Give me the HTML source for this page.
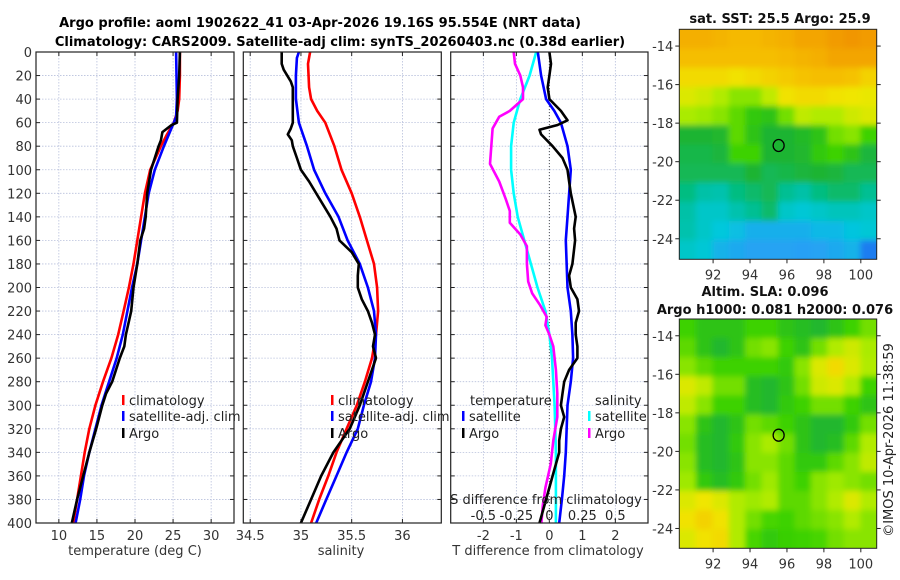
<!DOCTYPE html>
<html><head><meta charset="utf-8">
<style>
body{margin:0;background:#fff;}
svg{display:block;font-family:"DejaVu Sans","Liberation Sans",sans-serif;}
</style></head>
<body>
<svg id="c" width="900" height="580" viewBox="0 0 900 580" xmlns="http://www.w3.org/2000/svg">
<defs>
<filter id="bl" x="-5%" y="-5%" width="110%" height="110%"><feGaussianBlur stdDeviation="3"/></filter>
<clipPath id="cm1"><rect x="679.3" y="29.3" width="197.4" height="230"/></clipPath>
<clipPath id="cm2"><rect x="679.3" y="319" width="197.4" height="229.3"/></clipPath>
</defs>
<text x="320" y="27" text-anchor="middle" font-weight="bold" font-size="13">Argo profile: aoml 1902622_41 03-Apr-2026 19.16S 95.554E (NRT data)</text>
<text x="340" y="46" text-anchor="middle" font-weight="bold" font-size="13">Climatology: CARS2009. Satellite-adj clim: synTS_20260403.nc (0.38d earlier)</text>
</svg>
<script>
// ---------- data ----------
const depthTicks=[0,20,40,60,80,100,120,140,160,180,200,220,240,260,280,300,320,340,360,380,400];
const tTicks=[10,15,20,25,30];
const sTicks=[34.5,35,35.5,36];
const sTickLabels=["34.5","35","35.5","36"];
const dTicks=[-2,-1,0,1,2];
const dsTicks=[-0.5,-0.25,0,0.25,0.5];
const dsTickLabels=["-0.5","-0.25","0","0.25","0.5"];

const tClimZ=[0,20,40,50,60,70,80,100,120,140,160,180,200,220,240,260,280,300,320,340,360,380,400];
const tClimV=[25.9,25.9,25.8,25.6,25.1,24.2,23.4,22.0,21.3,20.8,20.3,19.8,19.2,18.5,17.8,16.9,15.8,14.8,14.0,13.4,12.9,12.4,11.9];
const tSatZ=[0,40,55,60,80,100,120,140,160,180,200,220,240,260,280,300,320,340,360,380,400];
const tSatV=[25.4,25.5,25.4,25.1,23.8,22.6,21.8,21.3,20.8,20.3,19.6,19.0,18.4,17.6,16.6,15.6,14.8,14.0,13.3,12.8,12.2];
const tArgoZ=[0,20,40,60,62,68,75,80,100,120,140,150,160,180,200,220,240,250,260,280,290,300,320,340,360,380,400];
const tArgoV=[25.9,25.8,25.6,25.5,24.8,23.6,23.4,23.1,22.1,21.6,21.4,21.2,20.7,20.3,19.8,19.5,18.8,18.6,18.0,17.0,16.2,15.7,14.9,14.0,13.2,12.4,11.7];

const sClimZ=[0,10,30,40,50,60,80,100,120,140,160,180,200,220,240,260,280,300,320,340,360,380,400];
const sClimV=[35.09,35.07,35.08,35.1,35.16,35.24,35.33,35.4,35.5,35.58,35.65,35.72,35.75,35.76,35.74,35.7,35.63,35.55,35.45,35.35,35.27,35.18,35.1];
const sSatZ=[0,5,20,40,60,80,100,120,140,160,180,200,220,240,260,280,300,320,340,360,380,400];
const sSatV=[34.98,34.96,34.95,34.95,34.98,35.06,35.13,35.24,35.37,35.46,35.58,35.66,35.72,35.74,35.73,35.69,35.62,35.56,35.45,35.35,35.25,35.15];
const sArgoZ=[0,10,15,25,30,40,60,65,70,75,80,90,100,110,120,130,140,150,160,170,180,190,200,210,220,230,240,250,260,280,300,320,340,360,380,400];
const sArgoV=[34.81,34.81,34.83,34.9,34.92,34.92,34.92,34.9,34.87,34.91,34.92,34.96,35.0,35.08,35.15,35.22,35.29,35.35,35.38,35.5,35.57,35.56,35.56,35.6,35.66,35.7,35.73,35.71,35.74,35.66,35.58,35.48,35.32,35.2,35.1,35.0];

const dtSatZ=[0,20,40,50,60,80,100,140,160,200,220,240,260,280,300,340,360,380,400];
const dtSatV=[-0.35,-0.25,-0.1,0.15,0.35,0.55,0.65,0.55,0.5,0.55,0.65,0.7,0.72,0.65,0.55,0.5,0.45,0.38,0.3];
const dtArgoZ=[0,10,20,30,40,50,58,62,66,70,80,90,100,110,120,140,150,160,180,190,200,210,220,230,240,250,260,270,280,290,300,310,320,330,340,350,360,380,400];
const dtArgoV=[0.0,0.05,0.0,-0.05,0.0,0.35,0.55,0.25,-0.3,-0.25,0.1,0.4,0.55,0.6,0.65,0.8,0.75,0.78,0.7,0.6,0.65,0.85,0.9,0.8,0.8,0.85,0.85,0.6,0.45,0.4,0.35,0.45,0.35,0.3,0.3,0.2,0.1,-0.1,-0.3];
const dsSatZ=[0,20,40,60,80,100,120,140,160,180,200,220,240,260,300,340,400];
const dsSatV=[-0.1,-0.15,-0.22,-0.27,-0.29,-0.29,-0.27,-0.24,-0.19,-0.14,-0.09,-0.03,0.0,0.02,0.04,0.05,0.05];
const dsArgoZ=[0,10,20,30,40,50,55,65,80,95,110,125,135,145,155,165,180,195,205,215,225,232,240,250,270,290,310,330,350,370,385,400];
const dsArgoV=[-0.27,-0.26,-0.22,-0.2,-0.2,-0.3,-0.38,-0.43,-0.44,-0.45,-0.38,-0.33,-0.3,-0.3,-0.22,-0.17,-0.17,-0.16,-0.13,-0.07,-0.02,-0.03,0.0,0.03,0.05,0.06,0.06,0.03,0.01,-0.03,-0.05,-0.06];

const lonTicks=[92,94,96,98,100];
const latTicks=[-14,-16,-18,-20,-22,-24];
const sstGrid=[
[0.88,0.88,0.87,0.86,0.86,0.87,0.88,0.9,0.9,0.92,0.93,0.92],
[0.85,0.85,0.85,0.85,0.85,0.85,0.86,0.87,0.88,0.9,0.9,0.9],
[0.78,0.78,0.78,0.76,0.78,0.8,0.82,0.84,0.85,0.85,0.84,0.8],
[0.72,0.7,0.66,0.62,0.62,0.68,0.76,0.78,0.78,0.76,0.75,0.74],
[0.65,0.64,0.62,0.58,0.52,0.5,0.6,0.68,0.66,0.66,0.7,0.72],
[0.45,0.45,0.46,0.58,0.5,0.45,0.45,0.47,0.5,0.6,0.62,0.55],
[0.43,0.43,0.44,0.55,0.55,0.45,0.45,0.46,0.52,0.55,0.5,0.44],
[0.42,0.42,0.42,0.42,0.45,0.42,0.43,0.44,0.45,0.44,0.42,0.42],
[0.38,0.33,0.32,0.38,0.4,0.42,0.36,0.33,0.38,0.4,0.4,0.36],
[0.33,0.28,0.28,0.32,0.36,0.4,0.28,0.26,0.28,0.3,0.3,0.28],
[0.32,0.28,0.25,0.22,0.17,0.17,0.17,0.17,0.2,0.2,0.24,0.26],
[0.28,0.26,0.18,0.15,0.13,0.13,0.13,0.12,0.13,0.15,0.18,0.06]];
const slaGrid=[
[0.55,0.5,0.5,0.5,0.55,0.55,0.5,0.48,0.46,0.5,0.55,0.6],
[0.58,0.5,0.46,0.5,0.6,0.62,0.55,0.5,0.6,0.66,0.7,0.65],
[0.62,0.58,0.55,0.55,0.55,0.55,0.52,0.62,0.72,0.78,0.72,0.66],
[0.72,0.68,0.6,0.6,0.48,0.46,0.5,0.6,0.7,0.72,0.66,0.55],
[0.68,0.62,0.55,0.55,0.48,0.46,0.52,0.55,0.6,0.6,0.55,0.5],
[0.62,0.5,0.46,0.5,0.6,0.58,0.55,0.5,0.46,0.46,0.52,0.6],
[0.6,0.48,0.46,0.52,0.62,0.65,0.6,0.5,0.46,0.48,0.58,0.66],
[0.62,0.48,0.46,0.5,0.62,0.62,0.58,0.52,0.52,0.58,0.62,0.68],
[0.64,0.52,0.48,0.52,0.6,0.64,0.58,0.55,0.62,0.64,0.62,0.6],
[0.72,0.75,0.72,0.66,0.64,0.66,0.58,0.58,0.62,0.66,0.72,0.66],
[0.76,0.8,0.76,0.66,0.6,0.56,0.55,0.58,0.6,0.62,0.66,0.62],
[0.72,0.76,0.78,0.66,0.56,0.52,0.54,0.55,0.56,0.6,0.62,0.62]];
const argoLon=95.55, argoLat=-19.16;

// ---------- drawing ----------
const NS='http://www.w3.org/2000/svg';
const svg=document.getElementById('c');
function el(tag,attrs,parent){const e=document.createElementNS(NS,tag);for(const k in attrs)e.setAttribute(k,attrs[k]);(parent||svg).appendChild(e);return e;}
function txt(s,attrs,parent){const e=el('text',attrs,parent);e.textContent=s;return e;}

const Y0=52,Y1=523;
const yD=d=>Y0+d*(Y1-Y0)/400;
function xScale(x0,x1,v0,v1){return v=>x0+(v-v0)*(x1-x0)/(v1-v0);}

function panel(name,x0,x1,xs,ticks,labels,yLabels){
  const g=el('g',{});
  
  
  ticks.forEach(t=>el('line',{x1:xs(t),x2:xs(t),y1:Y0,y2:Y1,stroke:'#b8c0dc','stroke-width':0.8,'stroke-dasharray':'1.5,1.5'},g));
  depthTicks.forEach(d=>el('line',{x1:x0,x2:x1,y1:yD(d),y2:yD(d),stroke:'#b8c0dc','stroke-width':0.8,'stroke-dasharray':'1.5,1.5'},g));
  depthTicks.forEach(d=>{el('line',{x1:x0,x2:x0+4,y1:yD(d),y2:yD(d),stroke:'#222'},g);el('line',{x1:x1-4,x2:x1,y1:yD(d),y2:yD(d),stroke:'#222'},g);});
  ticks.forEach(t=>{el('line',{x1:xs(t),x2:xs(t),y1:Y1,y2:Y1-4,stroke:'#222'},g);el('line',{x1:xs(t),x2:xs(t),y1:Y0,y2:Y0+4,stroke:'#222'},g);});
  if(labels) ticks.forEach((t,i)=>{const l=txt(labels[i],{x:xs(t),y:540,'text-anchor':'middle','font-size':13,fill:'#333'},g);
    
    });
  if(yLabels) depthTicks.forEach(d=>{const l=txt(String(d),{x:x0-4,y:yD(d)+5,'text-anchor':'end','font-size':13,fill:'#333'},g);
    
    });
  return g;
}
function frame(g,x0,x1){el('rect',{x:x0,y:Y0,width:x1-x0,height:Y1-Y0,fill:'none',stroke:'#222','stroke-width':1.2},g);}
function line(g,xs,Z,V,color,name,scale){
  const pts=Z.map((z,i)=>xs(V[i]*(scale||1)).toFixed(1)+','+yD(z).toFixed(1)).join(' ');
  const p=el('polyline',{points:pts,fill:'none',stroke:color,'stroke-width':2.6,'stroke-linejoin':'round'},g);
  
  
}
function legend(g,x,y,color,label,name){
  el('rect',{x:x,y:y-10,width:2.5,height:10,fill:color},g);
  const t=txt(label,{x:x+7,y:y,'font-size':13,fill:'#222'},g);
  
  
}

// panel 1 temperature
const xT=xScale(36,234,7,33);
const g1=panel('temperature-panel',36,234,xT,tTicks,tTicks.map(String),true);
line(g1,xT,tClimZ,tClimV,'#f00','temp-climatology-line');
line(g1,xT,tSatZ,tSatV,'#00f','temp-satellite-line');
line(g1,xT,tArgoZ,tArgoV,'#000','temp-argo-line');
frame(g1,36,234);
legend(g1,122,405,'#f00','climatology','legend-climatology');
legend(g1,122,421,'#00f','satellite-adj. clim','legend-satellite');
legend(g1,122,438,'#000','Argo','legend-argo');
let t1=txt('temperature (deg C)',{x:135,y:555,'text-anchor':'middle','font-size':13,fill:'#333'});



// panel 2 salinity
const xS=xScale(243.3,441.3,34.432,36.383);
const g2=panel('salinity-panel',243.3,441.3,xS,sTicks,sTickLabels,false);
line(g2,xS,sClimZ,sClimV,'#f00','sal-climatology-line');
line(g2,xS,sSatZ,sSatV,'#00f','sal-satellite-line');
line(g2,xS,sArgoZ,sArgoV,'#000','sal-argo-line');
frame(g2,243.3,441.3);
legend(g2,331,405,'#f00','climatology','legend-climatology');
legend(g2,331,421,'#00f','satellite-adj. clim','legend-satellite');
legend(g2,331,438,'#000','Argo','legend-argo');
let t2=txt('salinity',{x:341,y:555,'text-anchor':'middle','font-size':13,fill:'#333'});



// panel 3 differences
const xD=xScale(450.7,648,-2.99,2.99);
const g3=panel('difference-panel',450.7,648,xD,dTicks,dTicks.map(String),false);
el('line',{x1:xD(0),x2:xD(0),y1:Y0,y2:Y1,stroke:'#555','stroke-width':1,'stroke-dasharray':'1,2'},g3);
line(g3,xD,dsSatZ,dsSatV,'#0ff','sal-diff-satellite-line',4);
line(g3,xD,dsArgoZ,dsArgoV,'#f0f','sal-diff-argo-line',4);
line(g3,xD,dtSatZ,dtSatV,'#00f','temp-diff-satellite-line');
line(g3,xD,dtArgoZ,dtArgoV,'#000','temp-diff-argo-line');
frame(g3,450.7,648);
txt('temperature',{x:470,y:405,'font-size':13,fill:'#222'},g3);
legend(g3,462,421,'#00f','satellite','legend-temp-satellite');
legend(g3,462,438,'#000','Argo','legend-temp-argo');
txt('salinity',{x:595,y:405,'font-size':13,fill:'#222'},g3);
legend(g3,588,421,'#0ff','satellite','legend-sal-satellite');
legend(g3,588,438,'#f0f','Argo','legend-sal-argo');
let st=txt('S difference from climatology',{x:546,y:504,'text-anchor':'middle','font-size':13,fill:'#222'},g3);


dsTicks.forEach((v,i)=>{const l=txt(dsTickLabels[i],{x:xD(v*4),y:520,'text-anchor':'middle','font-size':13,fill:'#222'},g3);
  
  });
let t3=txt('T difference from climatology',{x:548,y:555,'text-anchor':'middle','font-size':13,fill:'#333'});



// maps
const stops=[[0,[20,90,235]],[0.12,[40,160,245]],[0.25,[0,200,220]],[0.37,[0,190,140]],[0.45,[30,180,50]],[0.55,[60,210,0]],[0.65,[170,235,0]],[0.75,[240,230,0]],[0.85,[245,190,0]],[0.95,[240,140,0]],[1,[230,110,0]]];
function cmap(v){for(let i=1;i<stops.length;i++){if(v<=stops[i][0]){const a=stops[i-1],b=stops[i],f=(v-a[0])/(b[0]-a[0]);return 'rgb('+a[1].map((c,k)=>Math.round(c+(b[1][k]-c)*f)).join(',')+')';}}return 'rgb(230,110,0)';}
function map(name,grid,top,bottom,clip,titleLines){
  const L=679.3,R=876.7;
  const xL=xScale(L,R,90.17,100.86);
  const yL=v=>top+(-13.13-v)*19.27;
  const g=el('g',{});
  
  
  const cg=el('g',{'clip-path':'url(#'+clip+')'},g);
  const img=el('g',{filter:'url(#bl)'},cg);
  const nr=grid.length,nc=grid[0].length;
  const cw=(R-L)/nc,ch=(bottom-top)/nr;
  grid.forEach((row,r)=>row.forEach((v,c)=>{
    const cell=el('rect',{x:L+c*cw-(c==0?10:0),y:top+r*ch-(r==0?10:0),width:cw+0.6+(c==0||c==nc-1?10:0),height:ch+0.6+(r==0||r==nr-1?10:0),fill:cmap(v)},img);
    
    
  }));
  el('rect',{x:L,y:top,width:R-L,height:bottom-top,fill:'none',stroke:'#222','stroke-width':1},g);
  lonTicks.forEach(t=>{el('line',{x1:xL(t),x2:xL(t),y1:bottom,y2:bottom+4,stroke:'#222'},g);
    const l=txt(String(t),{x:xL(t),y:bottom+20,'text-anchor':'middle','font-size':13,fill:'#333'},g);
    
    });
  latTicks.forEach(t=>{el('line',{x1:L-4,x2:L,y1:yL(t),y2:yL(t),stroke:'#222'},g);el('line',{x1:R,x2:R+4,y1:yL(t),y2:yL(t),stroke:'#222'},g);
    const l=txt(String(t),{x:L-6,y:yL(t)+5,'text-anchor':'end','font-size':13,fill:'#333'},g);
    
    });
  const m=el('ellipse',{cx:xL(argoLon),cy:yL(argoLat),rx:5.5,ry:6,fill:'none',stroke:'#000','stroke-width':1.3},g);
  
  
  titleLines.forEach(([s,x,y])=>{const t=txt(s,{x:x,y:y,'text-anchor':'middle','font-weight':'bold','font-size':13,fill:'#111'},g);
    
    });
}
map('sst-map',sstGrid,29.3,259.3,'cm1',[['sat. SST: 25.5 Argo: 25.9',780,23]]);
map('sla-map',slaGrid,319,548.3,'cm2',[['Altim. SLA: 0.096',765,296],['Argo h1000: 0.081 h2000: 0.076',775,314]]);
let cp=txt('©IMOS 10-Apr-2026 11:38:59',{x:0,y:0,'text-anchor':'middle','font-size':13,fill:'#222',transform:'translate(893,440) rotate(-90)'});


</script>
</body></html>
